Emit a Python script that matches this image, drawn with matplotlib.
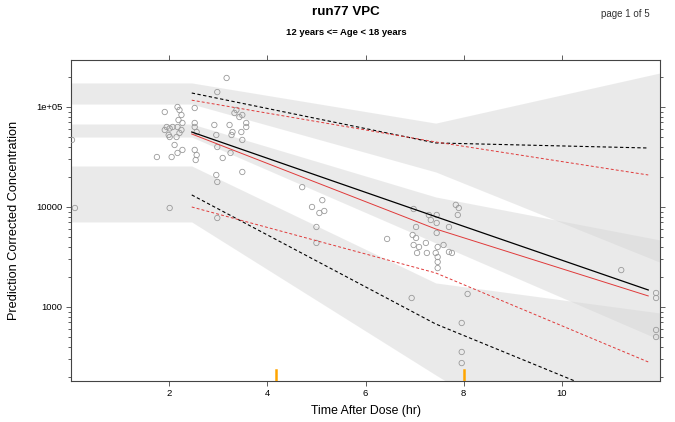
import numpy as np
import matplotlib
matplotlib.use("Agg")
import matplotlib.pyplot as plt
from matplotlib.ticker import FixedLocator, FixedFormatter, LogLocator, NullFormatter

plt.rcParams['font.family'] = ['Liberation Sans', 'DejaVu Sans']

# Confidence bands of the simulated percentiles (x at bin centres, flat/extended to the edges)
band_x = [0, 2.46, 7.43, 12.0]
p95_ci_lo = [1.07e5, 1.07e5, 2.24e4, 2.8e3]
p95_ci_hi = [1.74e5, 1.74e5, 6.9e4, 2.19e5]
p50_ci_lo = [5.0e4, 5.0e4, 4.37e3, 468]
p50_ci_hi = [6.76e4, 6.76e4, 1.26e4, 4.68e3]
p05_ci_lo = [7.08e3, 7.08e3, 209, 9]
p05_ci_hi = [2.57e4, 2.57e4, 1.74e3, 871]

# Percentile lines (simulated = black, observed = red)
line_x = [2.46, 7.43, 11.76]
sim_p50 = [5.62e4, 8.0e3, 1.48e3]
obs_p50 = [5.37e4, 6.03e3, 1.29e3]
sim_p95 = [1.38e5, 4.37e4, 3.89e4]
obs_p95 = [1.17e5, 4.47e4, 2.09e4]
sim_p05 = [1.32e4, 676, 91]
obs_p05 = [1.0e4, 2.19e3, 282]

# Bin boundaries
bin_edges = [4.17, 8.0]

# Observed prediction-corrected concentrations
obs_time = [0.02, 0.08,
            1.75, 1.91, 2.01, 1.95, 1.91, 2.01, 1.99, 2.01, 2.07,
            2.17, 2.21, 2.25, 2.19, 2.27, 2.17, 2.25, 2.21, 2.15, 2.11, 2.05, 2.17, 2.27,
            2.52, 2.52, 2.52, 2.56, 2.52, 2.56, 2.54,
            2.92, 2.96, 2.98, 2.96, 2.98, 2.98, 2.98, 3.17, 3.09, 3.25,
            3.23, 3.29, 3.27, 3.33, 3.37, 3.43, 3.47, 3.49, 3.57, 3.57, 3.49, 3.49,
            4.71, 4.91, 5.06, 5.12, 5.16, 5.00, 5.00, 6.44,
            6.98, 7.03, 6.96, 7.03, 7.84, 7.90, 7.88,
            7.29, 7.45, 7.45, 7.70, 7.33, 7.45,
            6.98, 7.09, 7.23, 7.47, 7.59, 7.70, 7.76, 7.05, 7.25, 7.43, 7.47, 7.47, 7.47,
            6.94, 8.08, 7.96, 7.96, 7.96,
            11.21, 11.92, 11.92, 11.92, 11.92]
obs_conc = [46800, 9770,
            31600, 89100, 9770, 63100, 58900, 61000, 52500, 50100, 63100,
            100000, 93300, 83200, 74100, 69200, 63100, 58900, 55000, 50100, 41700, 31600, 34700, 37200,
            97700, 69200, 63100, 56200, 37200, 33100, 29500,
            66100, 52500, 39800, 20900, 17800, 7760, 141000, 195000, 30900, 34700,
            66100, 56200, 52500, 87100, 93300, 79400, 56200, 83200, 69200, 63100, 46800, 22400,
            15800, 10000, 8710, 11700, 9120, 6310, 4370, 4790,
            9550, 6310, 5250, 4900, 10500, 9770, 8320,
            8320, 8320, 6920, 6310, 7410, 5500,
            4170, 3980, 4370, 3980, 4170, 3550, 3470, 3470, 3470, 3470, 3160, 2820, 2450,
            1230, 1350, 692, 355, 275,
            2340, 1380, 1230, 589, 501]

fig = plt.figure(figsize=(6.75, 4.22), dpi=100)
ax = fig.add_axes([0.1052, 0.0972, 0.8726, 0.7606])
ax.set_yscale('log')

band_kw = dict(color='#d7d7d7', alpha=0.5, linewidth=0)
ax.fill_between(band_x, p95_ci_lo, p95_ci_hi, **band_kw)
ax.fill_between(band_x, p50_ci_lo, p50_ci_hi, **band_kw)
ax.fill_between(band_x, p05_ci_lo, p05_ci_hi, **band_kw)

ax.scatter(obs_time, obs_conc, s=15, facecolors='none', edgecolors='#9a9a9a',
           linewidths=0.6, zorder=3)

ax.plot(line_x, sim_p50, color='black', lw=0.9, zorder=4)
ax.plot(line_x, obs_p50, color='#e03a3a', lw=0.7, zorder=4)
for vals in (sim_p95, sim_p05):
    ax.plot(line_x, vals, color='black', lw=0.8, ls=(0, (3, 2.2)), zorder=4)
for vals in (obs_p95, obs_p05):
    ax.plot(line_x, vals, color='#e03a3a', lw=0.7, ls=(0, (3, 2.2)), zorder=4)

for b in bin_edges:
    ax.axvline(b, ymin=0, ymax=0.035, color='#ffa500', lw=1.8, zorder=5)

ax.set_xlim(0, 12)
ax.set_ylim(182, 2.95e5)

ax.xaxis.set_major_locator(FixedLocator([2, 4, 6, 8, 10]))
ax.yaxis.set_major_locator(FixedLocator([1e3, 1e4, 1e5]))
ax.yaxis.set_major_formatter(FixedFormatter(['1000', '10000', '1e+05']))
ax.yaxis.set_minor_locator(LogLocator(base=10, subs=np.arange(2, 10)))
ax.yaxis.set_minor_formatter(NullFormatter())

ax.tick_params(which='both', direction='out', top=True, right=True,
               labeltop=False, labelright=False, color='#444444', width=0.6,
               labelsize=6.8, pad=2.5)
ax.tick_params(which='major', length=3.5)
ax.tick_params(which='minor', length=2.5)
ax.tick_params(axis='x', which='minor', top=False, bottom=False)
for sp in ax.spines.values():
    sp.set_color('#444444')
    sp.set_linewidth(0.8)

ax.set_xlabel('Time After Dose (hr)', fontsize=8.8, labelpad=5)
ax.set_ylabel('Prediction Corrected Concentration', fontsize=9.2, labelpad=12)

fig.text(0.513, 0.971, 'run77 VPC', ha='center', va='center', fontsize=9.6, fontweight='bold')
fig.text(0.513, 0.924, '12 years <= Age < 18 years', ha='center', va='center',
         fontsize=6.8, fontweight='bold')
fig.text(0.963, 0.967, 'page 1 of 5', ha='right', va='center', fontsize=7, color='#333333')

fig.savefig('out.png', dpi=100)
